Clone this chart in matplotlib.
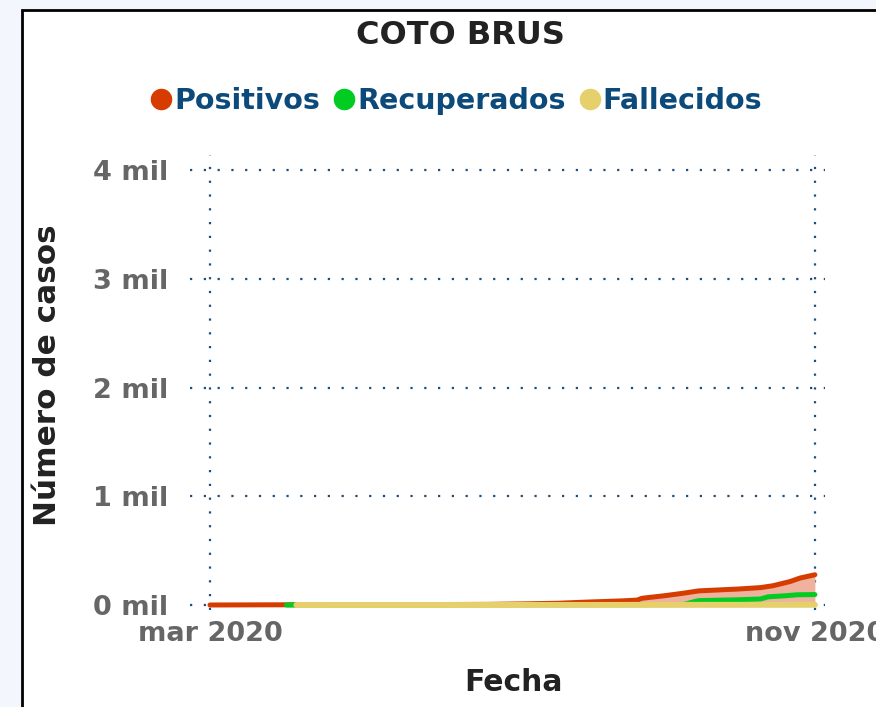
import matplotlib
matplotlib.use('Agg')
import matplotlib.pyplot as plt
from matplotlib.lines import Line2D
from matplotlib.patches import Rectangle
import pandas as pd

titulo = 'COTO BRUS'
series = ['Positivos', 'Recuperados', 'Fallecidos']
colores = ['#d63c00', '#00cc22', '#e6d06c']

pos_fechas = ['2020-03-01', '2020-03-15', '2020-04-01', '2020-05-01', '2020-06-01',
              '2020-06-22', '2020-07-05', '2020-07-20', '2020-08-01', '2020-08-15',
              '2020-08-21', '2020-08-23', '2020-09-01', '2020-09-08', '2020-09-15',
              '2020-10-01', '2020-10-10', '2020-10-15', '2020-10-22', '2020-10-26',
              '2020-11-01']
pos_valores = [0, 1, 2, 3, 4, 6, 10, 16, 27, 38, 45, 62, 85, 106, 130, 147, 160, 177,
               216, 248, 278]

rec_fechas = ['2020-04-01', '2020-05-01', '2020-06-01', '2020-07-01', '2020-08-01',
              '2020-09-01', '2020-09-09', '2020-09-13', '2020-09-15', '2020-10-01',
              '2020-10-10', '2020-10-13', '2020-10-20', '2020-10-25', '2020-11-01']
rec_valores = [0, 1, 2, 2, 3, 4, 5, 30, 40, 48, 55, 75, 85, 94, 96]

fal_fechas = ['2020-04-05', '2020-07-01', '2020-09-01', '2020-11-01']
fal_valores = [0, 0, 1, 2]

yticks = [0, 1000, 2000, 3000, 4000]
xticks = ['2020-03-01', '2020-11-01']
xtick_labels = ['mar 2020', 'nov 2020']

plt.rcParams['font.family'] = 'DejaVu Sans'
plt.rcParams['font.weight'] = 'bold'

fig = plt.figure(figsize=(8.76, 7.07), dpi=100)
fig.patch.set_facecolor('#f3f7fd')
# marco negro que sale por la derecha y por abajo
marco = Rectangle((22 / 876, -0.1), 1.0, 1 - 10 / 707 + 0.1, transform=fig.transFigure,
                  facecolor='white', edgecolor='black', lw=2, zorder=0)
fig.add_artist(marco)

ax = fig.add_axes([190 / 876, 1 - 610 / 707, 635 / 876, 455 / 707])
ax.set_facecolor('none')

pf = pd.to_datetime(pos_fechas)
rf = pd.to_datetime(rec_fechas)
ff = pd.to_datetime(fal_fechas)

ax.fill_between(pf, pos_valores, 0, color='#eeb29e', lw=0, zorder=2)
ax.plot(pf, pos_valores, color=colores[0], lw=3.6, solid_capstyle='round', zorder=3)
ax.plot(rf, rec_valores, color=colores[1], lw=3.6, solid_capstyle='round', zorder=4)
ax.plot(ff, fal_valores, color=colores[2], lw=4.3, solid_capstyle='round', zorder=5)

inicio = pd.Timestamp('2020-03-01')
fin = pd.Timestamp('2020-11-01')
ax.set_xlim(inicio - pd.Timedelta(days=8.1), fin + pd.Timedelta(days=4.1))
ax.set_ylim(-46, 4138)

ax.set_xticks(pd.to_datetime(xticks))
ax.set_xticklabels(xtick_labels)
ax.set_yticks(yticks)
ax.set_yticklabels([f'{v // 1000} mil' for v in yticks])

for lab in ax.get_xticklabels() + ax.get_yticklabels():
    lab.set_fontsize(19.5)
    lab.set_fontweight('bold')
    lab.set_color('#666666')
ax.tick_params(axis='both', length=0)
ax.tick_params(axis='y', pad=16)
ax.tick_params(axis='x', pad=8)

ax.grid(True, color='#1b4f7c', lw=1.6, linestyle=(0, (1, 5.2)), zorder=1)
for s in ax.spines.values():
    s.set_visible(False)

ax.set_xlabel('Fecha', fontsize=21.5, fontweight='bold', color='#222222')
ax.xaxis.set_label_coords(0.5087, -0.128)
ax.set_ylabel('Número de casos', fontsize=22.4, fontweight='bold', color='#222222')
ax.yaxis.set_label_coords(-0.2016, 0.516)

fig.text(460 / 876, 1 - 35 / 707, titulo, ha='center', va='center', fontsize=23,
         fontweight='bold', color='#222222')

handles = [Line2D([], [], ls='none', marker='o', ms=14.5, color=c) for c in colores]
leg = fig.legend(handles, series, loc='center', bbox_to_anchor=(456 / 876, 1 - 101 / 707),
                 ncol=3, frameon=False, handlelength=0.8,
                 handletextpad=0.05, columnspacing=0.45, borderpad=0,
                 prop={'weight': 'bold', 'size': 20.5})
for t in leg.get_texts():
    t.set_color('#0b4a7a')

fig.savefig('out.png', dpi=100, facecolor=fig.get_facecolor())
